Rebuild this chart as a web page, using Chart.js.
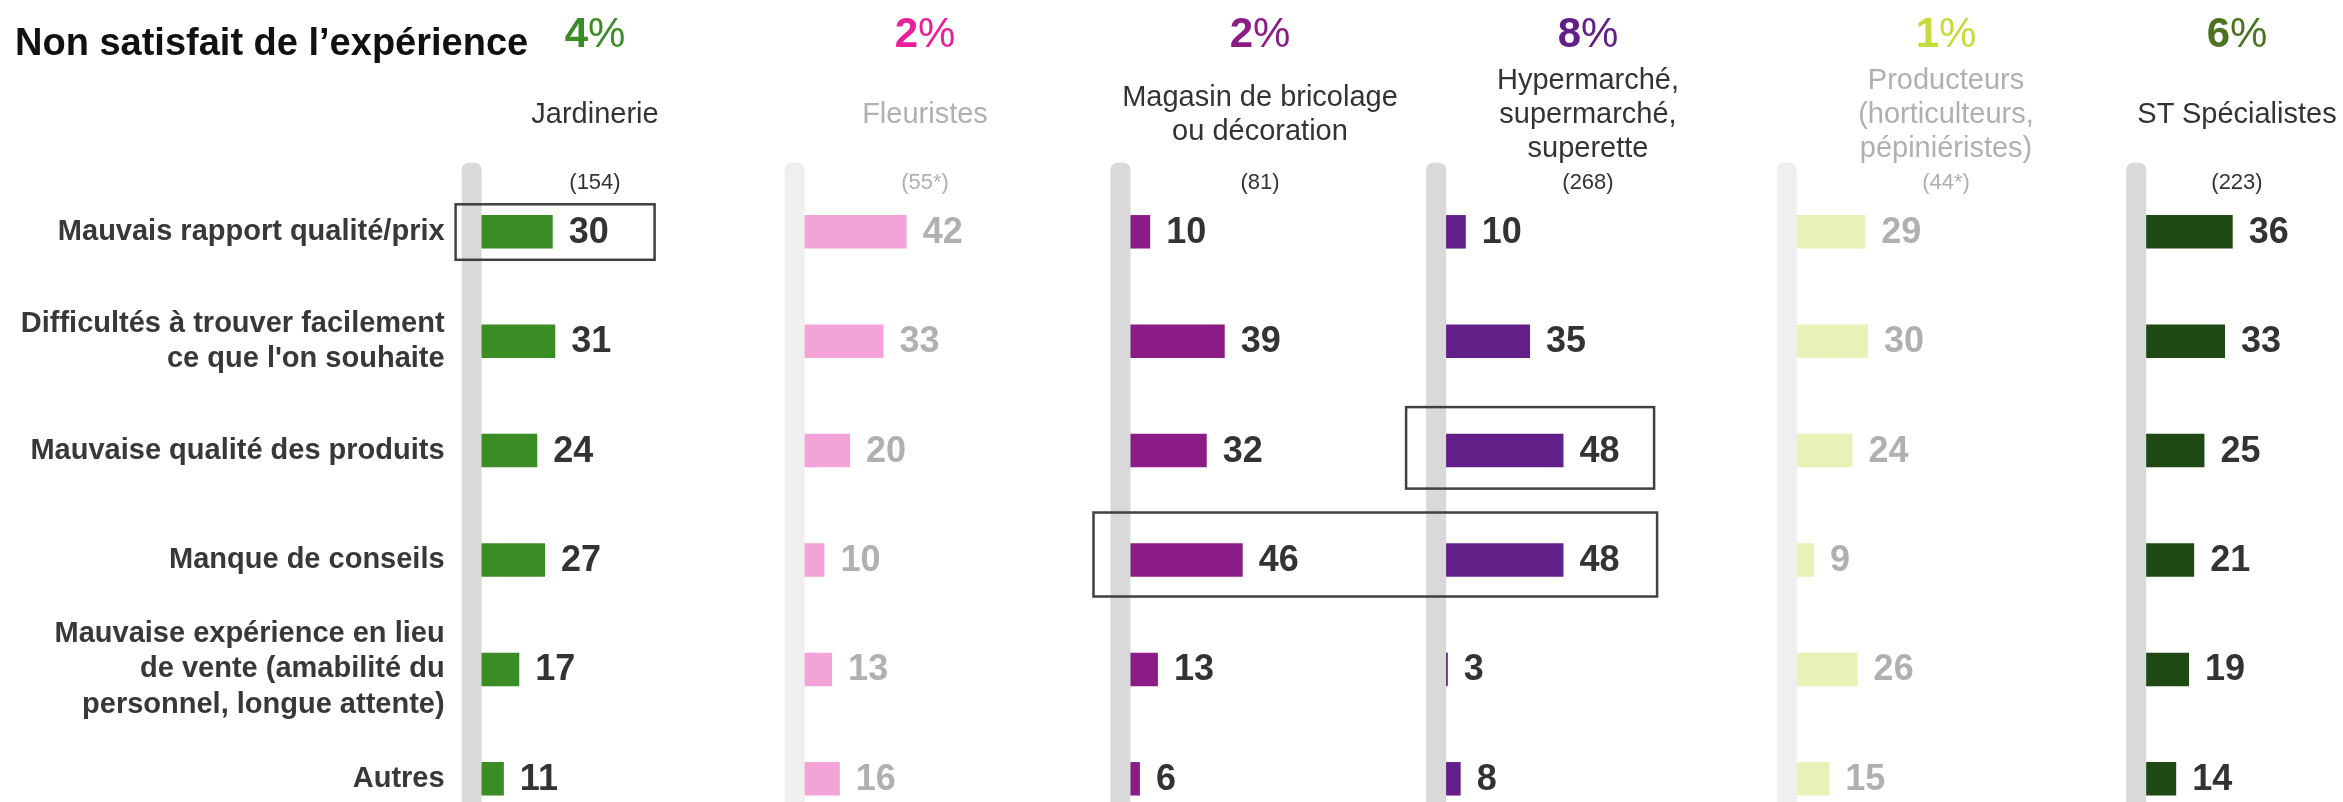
<!DOCTYPE html>
<html lang="fr">
<head>
<meta charset="UTF-8">
<title>Non satisfait de l’expérience</title>
<script src="https://cdn.jsdelivr.net/npm/chart.js"></script>
<style>
  * { margin: 0; padding: 0; box-sizing: border-box; }
  body {
    width: 2343px; height: 802px;
    background: #fff;
    font-family: 'Liberation Sans', Arial, sans-serif;
    position: relative; overflow: hidden;
  }
  /* canvas runs a little past the bottom edge so the last row has room for its label padding */
  #chart { position: absolute; left: 0; top: 0; }

  .title {
    position: absolute; left: 15px; top: 20px;
    font-size: 38px; line-height: 44px; font-weight: bold; color: #111;
  }
  .col { position: absolute; width: 340px; text-align: center; }
  .pct { top: 10px; font-size: 42px; line-height: 46px; }
  .pct b { font-weight: bold; }
  .pct span { font-weight: normal; }
  .name {
    top: 60px; height: 106px;
    display: flex; align-items: center; justify-content: center;
    font-size: 29px; line-height: 34px; color: #333;
  }
  .base { top: 170px; font-size: 22px; line-height: 24px; color: #333; }
  .faded { color: #b0b0b0; }
</style>
</head>
<body>

<canvas id="chart" width="2343" height="830"></canvas>
<div class="title">Non satisfait de l’expérience</div>
<div id="headers"></div>

<script>
  // Reasons for dissatisfaction (rows)
  const reasons = [
    'Mauvais rapport qualité/prix',
    ['Difficultés à trouver facilement', "ce que l'on souhaite"],
    'Mauvaise qualité des produits',
    'Manque de conseils',
    ['Mauvaise expérience en lieu', 'de vente (amabilité du', 'personnel, longue attente)'],
    'Autres'
  ];

  // Sales channels (columns)
  const channels = [
    ['Jardinerie'],
    ['Fleuristes'],
    ['Magasin de bricolage', 'ou décoration'],
    ['Hypermarché,', 'supermarché,', 'superette'],
    ['Producteurs', '(horticulteurs,', 'pépiniéristes)'],
    ['ST Spécialistes']
  ];
  const bases = ['(154)', '(55*)', '(81)', '(268)', '(44*)', '(223)'];
  const notSatisfied = [4, 2, 2, 8, 1, 6];

  // % per reason, one list per channel
  const jardinerie   = [30, 31, 24, 27, 17, 11];
  const fleuristes   = [42, 33, 20, 10, 13, 16];
  const bricolage    = [10, 39, 32, 46, 13, 6];
  const hypermarche  = [10, 35, 48, 48, 3, 8];
  const producteurs  = [29, 30, 24, 9, 26, 15];
  const specialistes = [36, 33, 25, 21, 19, 14];
  const series = [jardinerie, fleuristes, bricolage, hypermarche, producteurs, specialistes];

  // small bases are greyed out
  const lowBase = [false, true, false, false, true, false];

  const FONT = "'Liberation Sans', Arial, sans-serif";
  const barColors = ['#3a8c24', '#f4a3d9', '#8b1c86', '#611f87', '#e8f2b6', '#1e4913'];
  const pctColors = ['#3a8c24', '#ea1f9b', '#8b1c86', '#611f87', '#c5dc3c', '#4b7320'];

  // where each column's zero sits, and horizontal scale
  const colZero = [475.6, 798.7, 1124.5, 1440.1, 1790.8, 2140.2];
  const colCenter = [595, 925, 1260, 1588, 1946, 2237];
  const PX_PER_POINT = 2.57;
  const WIDTH = 2343;
  const CANVAS_H = 830;

  // framed cells: row, first/last column, offsets around them
  const highlights = [
    { row: 0, from: 0, to: 0, left: -20, right: 179, top: -27.5, bottom: 28 },
    { row: 2, from: 3, to: 3, left: -34, right: 214, top: -43.5, bottom: 38 },
    { row: 3, from: 2, to: 3, left: -31, right: 217, top: -47.5, bottom: 36.5 }
  ];

  // Headers
  const headers = document.getElementById('headers');
  channels.forEach((lines, i) => {
    const left = (colCenter[i] - 170) + 'px';
    const fade = lowBase[i] ? ' faded' : '';
    headers.insertAdjacentHTML('beforeend', `
      <div class="col pct" style="left:${left};color:${pctColors[i]}"><b>${notSatisfied[i]}</b><span>%</span></div>
      <div class="col name${fade}" style="left:${left}"><div>${lines.join('<br>')}</div></div>
      <div class="col base${fade}" style="left:${left}">${bases[i]}</div>
    `);
  });

  // Scales: one shared category axis, one x axis per column laid side by side
  const scales = {
    y: {
      offset: false,
      grid: { display: false, drawTicks: false },
      border: { display: false },
      ticks: {
        autoSkip: false,
        padding: 31,
        color: '#383838',
        font: { family: FONT, size: 29, weight: 'bold', lineHeight: 1.22 }
      },
      afterFit: s => { s.width = colZero[0]; }
    }
  };
  series.forEach((vals, i) => {
    const w = (i < series.length - 1 ? colZero[i + 1] : WIDTH) - colZero[i];
    scales['x' + i] = {
      type: 'linear',
      position: 'bottom',
      stack: 'columns',
      stackWeight: w,
      min: 0,
      max: w / PX_PER_POINT,
      display: false
    };
  });

  // Grey guide strips, value labels and frames
  const overlay = {
    id: 'overlay',
    afterDatasetsDraw(chart) {
      const ctx = chart.ctx;
      const yScale = chart.scales.y;
      const stripTop = yScale.getPixelForValue(0) - 69;
      ctx.save();
      series.forEach((vals, i) => {
        const x0 = chart.scales['x' + i].getPixelForValue(0);
        ctx.fillStyle = lowBase[i] ? '#efefef' : '#d9d9d9';
        ctx.beginPath();
        ctx.roundRect(x0 - 14, stripTop, 20, chart.height - stripTop + 10, [7, 7, 0, 0]);
        ctx.fill();

        ctx.font = 'bold 36px ' + FONT;
        ctx.fillStyle = lowBase[i] ? '#b0b0b0' : '#333';
        ctx.textAlign = 'left';
        ctx.textBaseline = 'middle';
        chart.getDatasetMeta(i).data.forEach((bar, j) => {
          ctx.fillText(vals[j], bar.x + 16, bar.y + 1);
        });
      });

      ctx.strokeStyle = '#404040';
      ctx.lineWidth = 2.5;
      highlights.forEach(h => {
        const yc = yScale.getPixelForValue(h.row);
        const x1 = chart.scales['x' + h.from].getPixelForValue(0) + h.left;
        const x2 = chart.scales['x' + h.to].getPixelForValue(0) + h.right;
        ctx.strokeRect(x1, yc + h.top, x2 - x1, h.bottom - h.top);
      });
      ctx.restore();
    }
  };

  new Chart(document.getElementById('chart'), {
    type: 'bar',
    data: {
      labels: reasons,
      datasets: series.map((vals, i) => ({
        label: channels[i].join(' '),
        data: vals,
        xAxisID: 'x' + i,
        backgroundColor: barColors[i],
        borderWidth: 0,
        grouped: false,
        clip: false,
        categoryPercentage: 1,
        barPercentage: 0.306
      }))
    },
    options: {
      indexAxis: 'y',
      responsive: false,
      animation: false,
      devicePixelRatio: 1,
      layout: { padding: { top: 231.8, bottom: CANVAS_H - 778.8, left: 0, right: 0 } },
      scales: scales,
      plugins: {
        legend: { display: false },
        tooltip: { enabled: false }
      }
    },
    plugins: [overlay]
  });
</script>
</body>
</html>
